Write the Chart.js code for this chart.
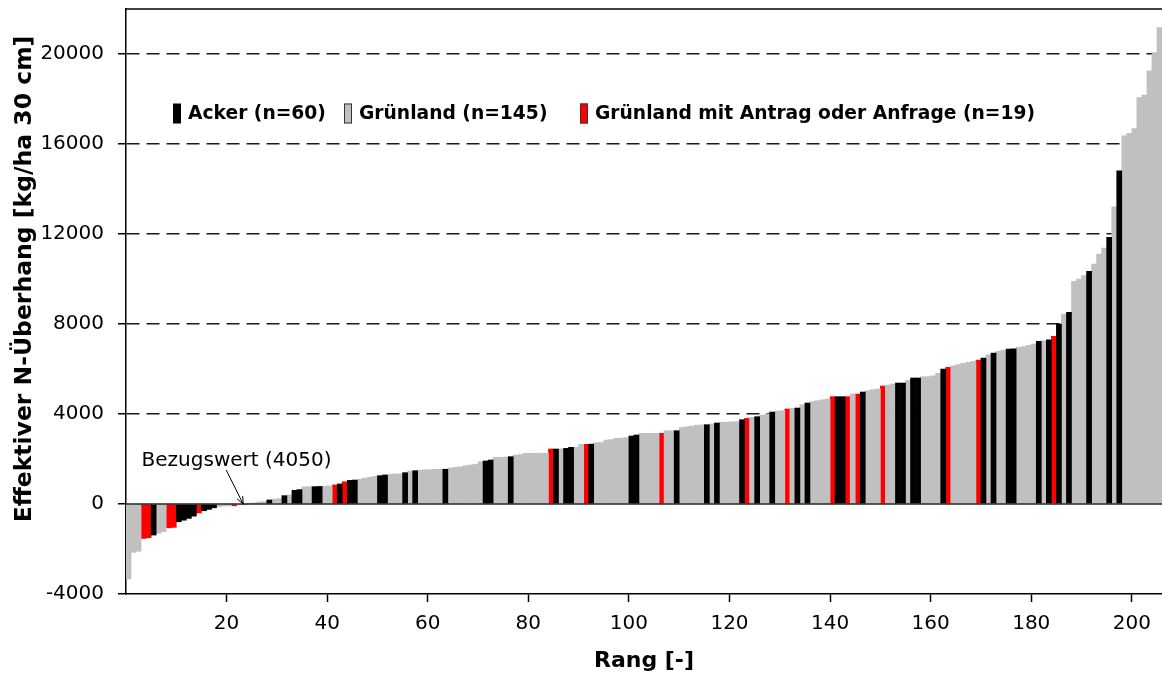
<!DOCTYPE html>
<html><head><meta charset="utf-8">
<script src="https://cdn.jsdelivr.net/npm/chart.js@4.4.1/dist/chart.umd.min.js"></script>
<style>html,body{margin:0;padding:0;background:#fff;}#wrap{width:1162px;height:678px;}</style>
</head><body><div id="wrap"><canvas id="c" width="1162" height="678"></canvas></div>
<script>
const seriesNames = ['Acker (n=60)', 'Grünland (n=145)', 'Grünland mit Antrag oder Anfrage (n=19)'];
const seriesCodes = ['B', 'G', 'R'];
const seriesColors = ['#000000', '#C0C0C0', '#FF0000'];

const values = [
  -3330,-2150,-2100,-1530,-1500,-1380,-1300,-1230,-1060,-1040,
  -790,-720,-640,-540,-400,-300,-240,-170,-120,-95,
  -80,-80,-40,-10,20,50,90,110,180,220,
  240,370,400,610,640,760,770,770,780,790,
  800,845,890,990,1050,1066,1100,1150,1190,1230,
  1260,1290,1320,1333,1340,1392,1466,1481,1500,1520,
  1530,1540,1540,1545,1600,1630,1650,1700,1733,1760,
  1880,1911,1955,2073,2075,2090,2103,2177,2200,2251,
  2251,2255,2255,2260,2444,2444,2450,2473,2518,2520,
  2651,2651,2660,2725,2730,2844,2860,2918,2930,2950,
  3021,3066,3140,3140,3140,3140,3140,3258,3258,3258,
  3400,3430,3460,3500,3520,3525,3560,3600,3630,3640,
  3650,3660,3747,3806,3850,3880,3950,4000,4088,4130,
  4147,4221,4250,4265,4410,4488,4550,4590,4630,4665,
  4770,4770,4770,4770,4888,4888,4977,5036,5080,5110,
  5243,5287,5332,5376,5376,5500,5600,5600,5658,5658,
  5700,5806,6000,6073,6146,6200,6250,6300,6340,6400,
  6487,6635,6709,6783,6842,6887,6900,6961,7000,7050,
  7109,7228,7250,7300,7450,8000,8440,8516,9893,10000,
  10150,10337,10663,11108,11374,11848,13210,14810,16365,16470,
  16690,18068,18172,19253,20068,21178
];
const groups = [
  'GGGRRBGGRR','BBBBRBBBGG','GRGGGGGGBG','GBGBBGGBBG','GRBRBBGGGG',
  'BBGGGBGBGG','GGGBGGGGGG','GBBGGGBGGG','GGGGRBGBBG','GRBGGGGGGG',
  'BBGGGGRGGB','GGGGGBGBGG','GGBRGBGGBG','GRGBGBGGGG','RBBRGRBGGG',
  'RGGBBGBBGG','GGBRGGGGGR','BGBGGBBGGG','GBGBRBGBGG','GBGGGBGBGG',
  'GGGGGG'
].join('').split('');

const xTicks = [20, 40, 60, 80, 100, 120, 140, 160, 180, 200];
const yTicks = [-4000, 0, 4000, 8000, 12000, 16000, 20000];
const yMin = -4000, yMax = 22000;
const xTitle = 'Rang [-]';
const yTitle = 'Effektiver N-Überhang [kg/ha 30 cm]';
const noteText = 'Bezugswert (4050)';
const noteRank = 23.3;
const noteValue = 0;

Chart.defaults.font.family = "'DejaVu Sans', sans-serif";
Chart.defaults.color = '#000';

const datasets = seriesCodes.map((code, k) => ({
  label: seriesNames[k],
  data: values.map((v, i) => groups[i] === code ? {x: i + 0.5, y: v} : null).filter(p => p),
  backgroundColor: seriesColors[k],
  borderWidth: 0
}));

const overlay = {
  id: 'overlay',
  afterDatasetsDraw(chart) {
    const {ctx, chartArea: a, scales: {y}} = chart;
    const y0 = y.getPixelForValue(0);
    ctx.save();
    ctx.strokeStyle = '#222';
    ctx.lineWidth = 1.5;
    ctx.beginPath(); ctx.moveTo(a.left, y0); ctx.lineTo(a.right, y0); ctx.stroke();
    ctx.strokeStyle = '#000';
    ctx.beginPath(); ctx.moveTo(a.left, a.top); ctx.lineTo(a.right, a.top); ctx.stroke();
    ctx.restore();
  },
  afterDraw(chart) {
    const {ctx, chartArea: a, scales: {x, y}} = chart;
    ctx.save();
    // legend
    const boxX = [47, 218, 454];
    const cy = a.top + 104.5;
    ctx.font = "bold 18.7px 'DejaVu Sans'";
    ctx.textBaseline = 'middle';
    ctx.textAlign = 'left';
    seriesNames.forEach((name, k) => {
      const bx = a.left + boxX[k];
      ctx.fillStyle = seriesColors[k];
      ctx.fillRect(bx, cy - 10, 8, 20);
      if (k > 0) { ctx.strokeStyle = '#333'; ctx.lineWidth = 1; ctx.strokeRect(bx + 0.5, cy - 9.5, 7, 19); }
      ctx.fillStyle = '#000';
      ctx.fillText(name, bx + 15, cy + 1);
    });
    // annotation
    const tx = x.getPixelForValue(noteRank), ty = y.getPixelForValue(noteValue);
    const sx = tx - 17, sy = ty - 34;
    ctx.strokeStyle = '#000'; ctx.lineWidth = 1;
    ctx.beginPath(); ctx.moveTo(sx, sy); ctx.lineTo(tx, ty); ctx.stroke();
    const ang = Math.atan2(ty - sy, tx - sx);
    ctx.beginPath();
    ctx.moveTo(tx - 8 * Math.cos(ang - 0.4), ty - 8 * Math.sin(ang - 0.4));
    ctx.lineTo(tx, ty);
    ctx.lineTo(tx - 8 * Math.cos(ang + 0.4), ty - 8 * Math.sin(ang + 0.4));
    ctx.stroke();
    ctx.font = "20px 'DejaVu Sans'";
    ctx.textBaseline = 'alphabetic';
    ctx.fillStyle = '#000';
    ctx.fillText(noteText, tx - 101.6, ty - 38.5);
    // y title
    ctx.translate(25, a.top + 270);
    ctx.rotate(-Math.PI / 2);
    ctx.font = "bold 23.5px 'DejaVu Sans'";
    ctx.textAlign = 'center';
    ctx.textBaseline = 'middle';
    ctx.fillText(yTitle, 0, 0);
    ctx.restore();
  }
};

new Chart(document.getElementById('c'), {
  type: 'bar',
  data: {datasets},
  plugins: [overlay],
  options: {
    responsive: false,
    animation: false,
    layout: {padding: {top: 9, left: 0, right: 0, bottom: 0}},
    plugins: {legend: {display: false}, tooltip: {enabled: false}},
    datasets: {bar: {grouped: false, barPercentage: 1, categoryPercentage: 1}},
    scales: {
      x: {
        type: 'linear', min: 0, max: values.length, offset: false,
        afterBuildTicks: s => { s.ticks = xTicks.map(v => ({value: v})); },
        afterFit: s => { s.height = 84; s.paddingLeft = 0; s.paddingRight = 0; },
        grid: {offset: false, drawOnChartArea: false, drawTicks: true, tickLength: 8, tickColor: '#000', tickWidth: 1.5},
        border: {display: true, color: '#000', width: 1.5},
        ticks: {color: '#000', font: {size: 20}, padding: 10, maxRotation: 0, autoSkip: false, callback: v => String(v)},
        title: {display: true, text: xTitle, color: '#000', font: {size: 22, weight: 'bold'}, padding: {top: 0, bottom: 4}}
      },
      y: {
        min: yMin, max: yMax,
        afterBuildTicks: s => { s.ticks = yTicks.map(v => ({value: v})); },
        afterFit: s => { s.width = 126; s.paddingTop = 0; s.paddingBottom = 0; },
        grid: {
          color: c => (c.tick && c.tick.value > 0) ? '#1a1a1a' : 'rgba(0,0,0,0)',
          lineWidth: 1.5, drawTicks: true, tickLength: 8, tickColor: '#000', tickWidth: 1.5
        },
        border: {display: true, color: '#000', width: 1.5, dash: [13, 7]},
        ticks: {color: '#000', font: {size: 20}, padding: 14, callback: v => String(v)}
      }
    }
  }
});
</script>
</body></html>
